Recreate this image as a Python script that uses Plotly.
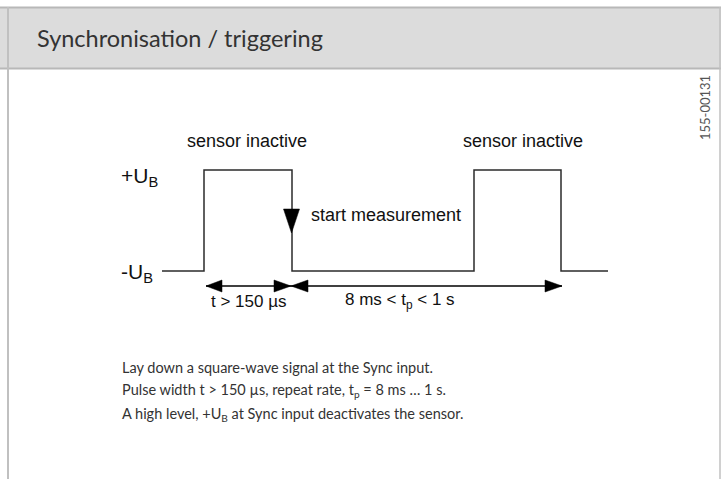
import plotly.graph_objects as go

# ---- data (diagram units: horizontal time positions, signal levels) ----
signal_t = [162, 204, 204, 292, 292, 474, 474, 561, 561, 608]
signal_state = ["low", "low", "high", "high", "low", "low", "high", "high", "low", "low"]
level_names = ["+U<sub>B</sub>", "-U<sub>B</sub>"]
level_pos = {"high": 170, "low": 271}

dim_marks = [206, 291, 562]          # dimension arrow end points
dim_labels = ["t &gt; 150 µs", "8 ms &lt; t<sub>p</sub> &lt; 1 s"]
state_labels = ["sensor inactive", "sensor inactive", "start measurement"]

title_text = "Synchronisation / triggering"
body_lines = [
    "Lay down a square-wave signal at the Sync input.",
    "Pulse width t &gt; 150 µs, repeat rate, t<sub>p</sub> = 8 ms … 1 s.",
    "A high level, +U<sub>B</sub> at Sync input deactivates the sensor.",
]
doc_id = "155-00131"

W, H = 721, 479
INK = "#2b2b2b"
fig = go.Figure()

# header band and frame
shapes = [
    dict(type="rect", x0=0, x1=W, y0=7, y1=69, fillcolor="#dcdcdc", line_width=0, layer="below"),
    dict(type="line", x0=0, x1=W, y0=7.5, y1=7.5, line=dict(color="#b8b8b8", width=2)),
    dict(type="line", x0=0, x1=W, y0=68.5, y1=68.5, line=dict(color="#b8b8b8", width=2)),
    dict(type="line", x0=8, x1=8, y0=7, y1=H, line=dict(color="#c0c0c0", width=2)),
    dict(type="line", x0=720, x1=720, y0=7, y1=H, line=dict(color="#c0c0c0", width=1.5)),
]

# waveform
sig_y = [level_pos[s] for s in signal_state]
fig.add_trace(go.Scatter(x=signal_t, y=sig_y, mode="lines",
                         line=dict(color=INK, width=1.5), hoverinfo="skip"))

# dimension line
dim_y = 286
fig.add_trace(go.Scatter(x=[dim_marks[0], dim_marks[-1]], y=[dim_y, dim_y], mode="lines",
                         line=dict(color="#000", width=1.5), hoverinfo="skip"))


def tri(tip_x, tip_y, direction, length=16, half=6):
    if direction == "left":
        return [tip_x, tip_x + length, tip_x + length, tip_x], [tip_y, tip_y - half, tip_y + half, tip_y]
    if direction == "right":
        return [tip_x, tip_x - length, tip_x - length, tip_x], [tip_y, tip_y - half, tip_y + half, tip_y]
    # down
    return [tip_x, tip_x - half, tip_x + half, tip_x], [tip_y, tip_y - length, tip_y - length, tip_y]


heads = [
    tri(dim_marks[0], dim_y, "left"),
    tri(dim_marks[1], dim_y, "right", 17),
    tri(dim_marks[1], dim_y, "left", 17),
    tri(dim_marks[2], dim_y, "right", 17),
    tri(signal_t[3] - 0.5, 233, "down", 24, 8),
]
for hx, hy in heads:
    fig.add_trace(go.Scatter(x=hx, y=hy, mode="lines", fill="toself", fillcolor="#000",
                             line=dict(color="#000", width=0.5), hoverinfo="skip"))

ann = []
arial = "Liberation Sans, Arial, sans-serif"
gill = "Lato, 'Open Sans', sans-serif"
# state labels
ann.append(dict(x=247, y=141, text=state_labels[0], xanchor="center", yanchor="middle",
                font=dict(family=arial, size=18, color="#111")))
ann.append(dict(x=523, y=141, text=state_labels[1], xanchor="center", yanchor="middle",
                font=dict(family=arial, size=18, color="#111")))
ann.append(dict(x=309, y=215, text=state_labels[2], xanchor="left", yanchor="middle",
                font=dict(family=arial, size=18, color="#111")))
# level labels
ann.append(dict(x=119, y=level_pos["high"] + 7, text=level_names[0], xanchor="left", yanchor="middle",
                font=dict(family=arial, size=21, color="#111")))
ann.append(dict(x=119, y=level_pos["low"] + 2, text=level_names[1], xanchor="left", yanchor="middle",
                font=dict(family=arial, size=21, color="#111")))
# dimension labels
ann.append(dict(x=(dim_marks[0] + dim_marks[1]) / 2, y=301, text=dim_labels[0], xanchor="center",
                yanchor="middle", font=dict(family=arial, size=17, color="#111")))
ann.append(dict(x=343, y=301, text=dim_labels[1], xanchor="left", yanchor="middle",
                font=dict(family=arial, size=17, color="#111")))
# title
ann.append(dict(x=35, y=38, text=title_text, xanchor="left", yanchor="middle",
                font=dict(family=gill, size=23.5, color="#333")))
# body text
for i, line in enumerate(body_lines):
    ann.append(dict(x=120, y=367 + i * 23.5, text=line, xanchor="left", yanchor="middle",
                    font=dict(family=gill, size=14.5, color="#333")))
# doc id
ann.append(dict(x=705, y=108, text=doc_id, textangle=-90, xanchor="center", yanchor="middle",
                font=dict(family=gill, size=13, color="#555")))

for a in ann:
    a.update(xref="x", yref="y", showarrow=False)

fig.update_layout(
    width=W, height=H, margin=dict(l=0, r=0, t=0, b=0),
    paper_bgcolor="white", plot_bgcolor="white", showlegend=False,
    xaxis=dict(range=[0, W], visible=False, fixedrange=True),
    yaxis=dict(range=[H, 0], visible=False, fixedrange=True),
    shapes=shapes, annotations=ann,
)
fig.write_html("out.html", config={"displayModeBar": False},
               post_script="document.body.style.margin='0';document.body.style.overflow='hidden';")
